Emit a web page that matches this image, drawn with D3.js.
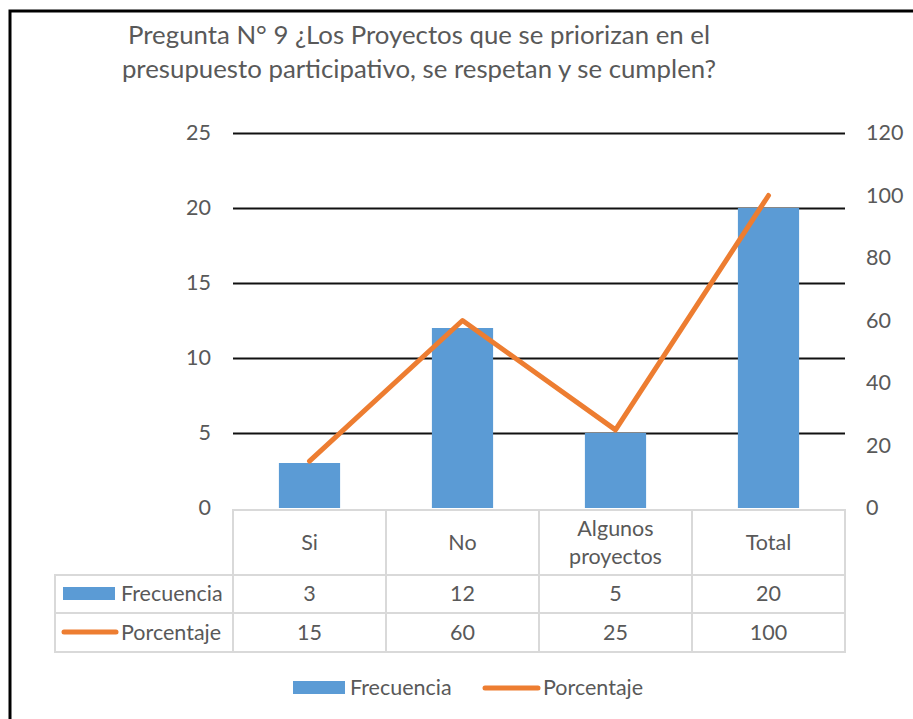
<!DOCTYPE html>
<html lang="es">
<head>
<meta charset="utf-8">
<title>Pregunta 9</title>
<script src="https://d3js.org/d3.v7.min.js"></script>
<style>
  body { margin: 0; background: #fff; }
  text { font-family: Lato, "Open Sans", sans-serif; fill: #595959; }
  .grid line { stroke: #111; stroke-width: 2; }
  .cell { fill: none; stroke: #d9d9d9; stroke-width: 2; }
</style>
</head>
<body>
<script>
// data
var categories = ["Si", "No", "Algunos proyectos", "Total"];
var catLines = [["Si"], ["No"], ["Algunos", "proyectos"], ["Total"]];
var frecuencia = [3, 12, 5, 20];
var porcentaje = [15, 60, 25, 100];
var leftTicks = [0, 5, 10, 15, 20, 25];
var rightTicks = [0, 20, 40, 60, 80, 100, 120];
var titleLines = ["Pregunta N° 9 ¿Los Proyectos que se priorizan en el",
                  "presupuesto participativo, se respetan y se cumplen?"];

var width = 913, height = 719;
var blue = "#5b9bd5", orange = "#ed7d31";
var fs = 21.5;

var svg = d3.select("body").append("svg")
  .attr("width", width)
  .attr("height", height);

// chart frame (only left and top visible in the shot)
svg.append("path")
  .attr("d", "M10,730 V11 H930")
  .attr("fill", "none")
  .attr("stroke", "#000")
  .attr("stroke-width", 3);

// title
svg.append("g").selectAll("text")
  .data(titleLines)
  .enter().append("text")
  .attr("x", 419)
  .attr("y", function(d, i) { return 44 + i * 34; })
  .attr("text-anchor", "middle")
  .attr("font-size", 25.8)
  .text(function(d) { return d; });

var x = d3.scaleBand()
  .domain(categories)
  .range([233, 845]);

var y = d3.scaleLinear().domain([0, 25]).range([508, 133]);
var y2 = d3.scaleLinear().domain([0, 120]).range([508, 133]);

// gridlines
svg.append("g")
  .attr("class", "grid")
  .attr("transform", "translate(233,0)")
  .call(d3.axisLeft(y).tickValues(leftTicks.slice(1)).tickSize(-612).tickFormat(""))
  .call(function(g) { g.select(".domain").remove(); });

// left axis labels
svg.append("g")
  .attr("transform", "translate(211,0)")
  .call(d3.axisLeft(y).tickValues(leftTicks).tickSize(0).tickPadding(0))
  .call(function(g) {
    g.select(".domain").remove();
    g.selectAll("text").attr("font-size", fs).attr("font-family", null).attr("fill", null);
  });

// right axis labels
svg.append("g")
  .attr("transform", "translate(866,0)")
  .call(d3.axisRight(y2).tickValues(rightTicks).tickSize(0).tickPadding(0))
  .call(function(g) {
    g.select(".domain").remove();
    g.selectAll("text").attr("font-size", fs).attr("font-family", null).attr("fill", null);
  });

// bars
var barW = x.bandwidth() * 0.4;
svg.append("g").selectAll("rect")
  .data(frecuencia)
  .enter().append("rect")
  .attr("x", function(d, i) { return x(categories[i]) + (x.bandwidth() - barW) / 2; })
  .attr("y", function(d) { return y(d); })
  .attr("width", barW)
  .attr("height", function(d) { return y(0) - y(d); })
  .attr("fill", blue);

// line
var line = d3.line()
  .x(function(d, i) { return x(categories[i]) + x.bandwidth() / 2; })
  .y(function(d) { return y2(d); });

svg.append("path")
  .datum(porcentaje)
  .attr("d", line)
  .attr("fill", "none")
  .attr("stroke", orange)
  .attr("stroke-width", 5)
  .attr("stroke-linecap", "round")
  .attr("stroke-linejoin", "round");

// data table
var tTop = 510, hRow = 575, r1 = 613, tBot = 652, tLeft = 55;
var tbl = svg.append("g");

categories.forEach(function(c, i) {
  tbl.append("rect").attr("class", "cell")
    .attr("x", x(c)).attr("y", tTop)
    .attr("width", x.bandwidth()).attr("height", hRow - tTop);
  tbl.append("rect").attr("class", "cell")
    .attr("x", x(c)).attr("y", hRow)
    .attr("width", x.bandwidth()).attr("height", r1 - hRow);
  tbl.append("rect").attr("class", "cell")
    .attr("x", x(c)).attr("y", r1)
    .attr("width", x.bandwidth()).attr("height", tBot - r1);
});
tbl.append("rect").attr("class", "cell")
  .attr("x", tLeft).attr("y", hRow).attr("width", 233 - tLeft).attr("height", r1 - hRow);
tbl.append("rect").attr("class", "cell")
  .attr("x", tLeft).attr("y", r1).attr("width", 233 - tLeft).attr("height", tBot - r1);

// header labels
catLines.forEach(function(lines, i) {
  var cx = x(categories[i]) + x.bandwidth() / 2;
  var mid = (tTop + hRow) / 2 + 7;
  lines.forEach(function(l, j) {
    tbl.append("text")
      .attr("x", cx)
      .attr("y", mid + (j - (lines.length - 1) / 2) * 28)
      .attr("text-anchor", "middle")
      .attr("font-size", fs)
      .text(l);
  });
});

// value rows
[frecuencia, porcentaje].forEach(function(row, k) {
  var cy = k === 0 ? (hRow + r1) / 2 + 7 : (r1 + tBot) / 2 + 7;
  row.forEach(function(v, i) {
    tbl.append("text")
      .attr("x", x(categories[i]) + x.bandwidth() / 2)
      .attr("y", cy)
      .attr("text-anchor", "middle")
      .attr("font-size", fs)
      .text(v);
  });
});

// row keys
tbl.append("rect").attr("x", 63).attr("y", 587).attr("width", 52).attr("height", 13).attr("fill", blue);
tbl.append("line").attr("x1", 64).attr("x2", 116).attr("y1", 632).attr("y2", 632)
  .attr("stroke", orange).attr("stroke-width", 5).attr("stroke-linecap", "round");
tbl.append("text").attr("x", 121).attr("y", (hRow + r1) / 2 + 7).attr("font-size", fs).text("Frecuencia");
tbl.append("text").attr("x", 121).attr("y", (r1 + tBot) / 2 + 7).attr("font-size", fs).text("Porcentaje");

// legend
var leg = svg.append("g");
leg.append("rect").attr("x", 293).attr("y", 681).attr("width", 52).attr("height", 13).attr("fill", blue);
leg.append("text").attr("x", 350).attr("y", 695).attr("font-size", fs).text("Frecuencia");
leg.append("line").attr("x1", 485).attr("x2", 538).attr("y1", 688).attr("y2", 688)
  .attr("stroke", orange).attr("stroke-width", 5).attr("stroke-linecap", "round");
leg.append("text").attr("x", 543).attr("y", 695).attr("font-size", fs).text("Porcentaje");
</script>
</body>
</html>
